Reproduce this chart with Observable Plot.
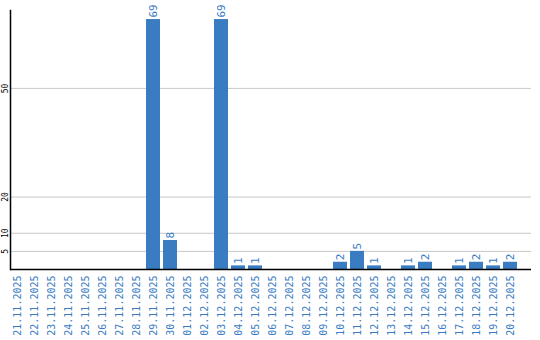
<!DOCTYPE html>
<html>
<head>
<meta charset="utf-8">
<script src="https://cdn.jsdelivr.net/npm/d3@7"></script>
<script src="https://cdn.jsdelivr.net/npm/@observablehq/plot@0.6"></script>
<style>
  html, body { margin: 0; padding: 0; background: #fff; }
  #chart svg { display: block; }
</style>
</head>
<body>
<div id="chart"></div>
<script>
const dates = ["21.11.2025","22.11.2025","23.11.2025","24.11.2025","25.11.2025","26.11.2025","27.11.2025","28.11.2025","29.11.2025","30.11.2025","01.12.2025","02.12.2025","03.12.2025","04.12.2025","05.12.2025","06.12.2025","07.12.2025","08.12.2025","09.12.2025","10.12.2025","11.12.2025","12.12.2025","13.12.2025","14.12.2025","15.12.2025","16.12.2025","17.12.2025","18.12.2025","19.12.2025","20.12.2025"];
const values = [0,0,0,0,0,0,0,0,69,8,0,0,69,1,1,0,0,0,0,2,5,1,0,1,2,0,1,2,1,2];
const yTicks = [5, 10, 20, 50];

const data = dates.map((d, i) => ({date: d, value: values[i]}));
const nonZero = data.filter(d => d.value > 0);
const blue = "#3a7cc2";
const font = "DejaVu Sans Mono";

const chart = Plot.plot({
  width: 540,
  height: 340,
  marginLeft: 10,
  marginRight: 9,
  marginTop: 10,
  marginBottom: 71,
  style: {fontFamily: font, background: "#fff"},
  x: {type: "band", domain: dates, range: [8.5, 518.5], paddingInner: 0.18, paddingOuter: 0.09, axis: null},
  y: {domain: [0, 71.5], axis: null},
  marks: [
    Plot.ruleY(yTicks, {stroke: "#c8c8c8", strokeWidth: 1}),
    Plot.barY(data, {x: "date", y: "value", fill: blue}),
    Plot.text(nonZero, {x: "date", y: "value", text: d => String(d.value), rotate: -90, textAnchor: "start", lineAnchor: "middle", dy: -2, fill: blue, fontSize: 11, fontFamily: font}),
    Plot.text(yTicks, {y: d => d, text: d => String(d), frameAnchor: "left", dx: -5, rotate: -90, textAnchor: "middle", lineAnchor: "middle", fill: "#000", fontSize: 8, fontFamily: font}),
    Plot.text(dates, {x: d => d, text: d => d, frameAnchor: "bottom", dy: 6, rotate: -90, textAnchor: "end", lineAnchor: "middle", fill: blue, fontSize: 10, fontFamily: font}),
    Plot.ruleY([0], {stroke: "#000", strokeWidth: 1.5}),
    Plot.frame({anchor: "left", stroke: "#000", strokeWidth: 1.5})
  ]
});
document.getElementById("chart").appendChild(chart);
</script>
</body>
</html>
